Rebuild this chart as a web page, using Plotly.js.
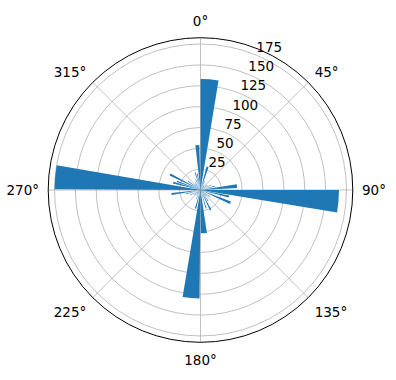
<!DOCTYPE html>
<html>
<head>
<meta charset="utf-8">
<script src="https://cdn.plot.ly/plotly-3.0.1.min.js"></script>
<style>html,body{margin:0;padding:0;background:#fff;}#chart{width:396px;height:380px;}</style>
</head>
<body>
<div id="chart"></div>
<script>
// bar direction (degrees, clockwise from north), angular width, count
const directions = [4.7, 17, 25, 35, 45, 55, 65, 75, 84,
  94.7, 103, 113, 125, 135, 145, 153, 163, 175.5,
  185, 195, 205, 215, 225, 235, 245, 255, 262,
  275, 285, 290, 297, 305, 315, 325, 335, 343, 349, 356];
const widths = [9.3, 5, 3, 3, 3, 3, 3, 3, 6,
  9.3, 4, 5, 3, 3, 3, 4, 3, 8,
  9, 4, 3, 3, 3, 3, 3, 3, 4,
  9.5, 4, 3, 4, 3, 3, 3, 3, 3, 3, 5];
const counts = [133, 29, 12, 8, 6, 10, 14, 18, 44,
  166, 35, 39, 14, 10, 16, 27, 23, 52,
  130, 23, 12, 8, 6, 10, 14, 18, 35,
  175, 34, 30, 41, 18, 10, 12, 14, 22, 20, 54];
const radialTicks = [25, 50, 75, 100, 125, 150, 175];
const radialLabelAngle = 22.5;
const angleTicks = [0, 45, 90, 135, 180, 225, 270, 315];

const trace = {
  type: 'barpolar',
  theta: directions,
  r: counts,
  width: widths,
  base: 0,
  marker: {color: '#1f77b4', line: {width: 0}},
  hoverinfo: 'skip'
};

const labels = {
  type: 'scatterpolar',
  mode: 'text',
  r: radialTicks,
  theta: radialTicks.map(() => radialLabelAngle),
  text: radialTicks.map(String),
  textposition: 'top right',
  textfont: {family: 'DejaVu Sans', size: 13.5, color: '#000'},
  hoverinfo: 'skip',
  cliponaxis: false
};

const layout = {
  width: 396, height: 380,
  margin: {l: 0, r: 0, t: 0, b: 0},
  paper_bgcolor: '#fff',
  showlegend: false,
  font: {family: 'DejaVu Sans', size: 13.5, color: '#000'},
  polar: {
    domain: {x: [0.1217, 0.8909], y: [0.0992, 0.9008]},
    bgcolor: '#fff',
    angularaxis: {
      rotation: 90, direction: 'clockwise',
      tickmode: 'array', tickvals: angleTicks,
      ticktext: angleTicks.map(a => a + '°'),
      ticks: 'outside', ticklen: 6, tickcolor: 'rgba(0,0,0,0)',
      showline: true, linecolor: '#000', linewidth: 1,
      gridcolor: '#b0b0b0', gridwidth: 0.8,
      tickfont: {family: 'DejaVu Sans', size: 13.5, color: '#000'}
    },
    radialaxis: {
      range: [0, 182.6], angle: 67.5,
      tickmode: 'array', tickvals: radialTicks,
      ticks: '', showline: false, showticklabels: false,
      gridcolor: '#b0b0b0', gridwidth: 0.8
    }
  }
};

Plotly.newPlot('chart', [trace, labels], layout, {displayModeBar: false, staticPlot: true});
</script>
</body>
</html>
